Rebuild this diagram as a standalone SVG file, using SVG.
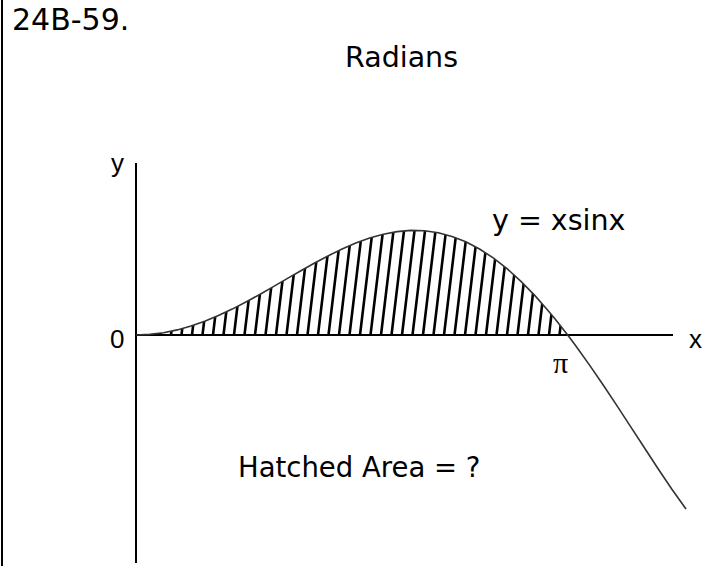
<svg xmlns="http://www.w3.org/2000/svg" width="714" height="566" viewBox="0 0 714 566">
<style>
.t{font-family:"DejaVu Sans",Verdana,sans-serif;font-size:28.5px;fill:#000}
.a{font-family:"Liberation Sans",Arial,sans-serif;font-size:26px;fill:#000}
.p{font-family:"Liberation Serif","Times New Roman",serif;font-size:30px;fill:#000}
.ax{stroke:#000;stroke-width:2;fill:none}
.cv{stroke:#333;stroke-width:1.6;fill:none;stroke-linejoin:round}
.h{stroke:#000;stroke-width:2.6}
</style>
<defs>
<clipPath id="area">
<path d="M136,335 L149.7,334.4 163.5,332.7 177.2,329.9 191,326 204.7,321.2 218.4,315.5 232.2,309.1 245.9,302 259.7,294.5 273.4,286.6 287.1,278.6 300.9,270.7 314.6,263 328.4,255.7 342.1,249 355.8,243 369.6,238.1 383.3,234.2 397.1,231.6 410.8,230.4 424.5,230.8 438.3,232.7 452,236.4 465.8,241.8 479.5,249 493.2,257.9 507,268.6 520.7,281.1 534.5,295.1 548.2,310.7 555.1,319 567.7,335 Z"/>
</clipPath>
</defs>
<rect width="714" height="566" fill="#fff"/>
<line x1="2" y1="0" x2="2" y2="566" class="ax"/>
<g id="labels">
<text class="t" x="12" y="30" style="font-size:30px">24B-59.</text>
<text class="t" x="345" y="67">Radians</text>
<text class="t" x="492" y="230">y = xsinx</text>
<text class="t" x="238" y="477" style="font-size:27.5px">Hatched Area = ?</text>
<text class="a" x="111" y="172">y</text>
<text class="a" x="110" y="348">0</text>
<text class="a" x="689" y="348">x</text>
<text class="p" x="553" y="373">π</text>
</g>
<g id="hatch" clip-path="url(#area)">
<path class="h" d="M150,335 l24,-200 M160.5,335 l24,-200 M171,335 l24,-200 M181.5,335 l24,-200 M192,335 l24,-200 M202.5,335 l24,-200 M213,335 l24,-200 M223.5,335 l24,-200 M234,335 l24,-200 M244.5,335 l24,-200 M255,335 l24,-200 M265.5,335 l24,-200 M276,335 l24,-200 M286.5,335 l24,-200 M297,335 l24,-200 M307.5,335 l24,-200 M318,335 l24,-200 M328.5,335 l24,-200 M339,335 l24,-200 M349.5,335 l24,-200 M360,335 l24,-200 M370.5,335 l24,-200 M381,335 l24,-200 M391.5,335 l24,-200 M402,335 l24,-200 M412.5,335 l24,-200 M423,335 l24,-200 M433.5,335 l24,-200 M444,335 l24,-200 M454.5,335 l24,-200 M465,335 l24,-200 M475.5,335 l24,-200 M486,335 l24,-200 M496.5,335 l24,-200 M507,335 l24,-200 M517.5,335 l24,-200 M528,335 l24,-200 M538.5,335 l24,-200 M549,335 l24,-200 M559.5,335 l24,-200"/>
</g>
<g id="connectors">
<line x1="136" y1="163" x2="136" y2="563" class="ax"/>
<line x1="136" y1="335" x2="673" y2="335" class="ax"/>
<path class="cv" d="M136,335 L149.7,334.4 163.5,332.7 177.2,329.9 191,326 204.7,321.2 218.4,315.5 232.2,309.1 245.9,302 259.7,294.5 273.4,286.6 287.1,278.6 300.9,270.7 314.6,263 328.4,255.7 342.1,249 355.8,243 369.6,238.1 383.3,234.2 397.1,231.6 410.8,230.4 424.5,230.8 438.3,232.7 452,236.4 465.8,241.8 479.5,249 493.2,257.9 507,268.6 520.7,281.1 534.5,295.1 548.2,310.7 555.1,319 567.7,335 575.7,345.7 589.4,364.9 603.2,385 616.9,405.6 630.6,426.6 644.4,447.7 658.1,468.7 671.9,489.2 686,509"/>
</g>
</svg>
